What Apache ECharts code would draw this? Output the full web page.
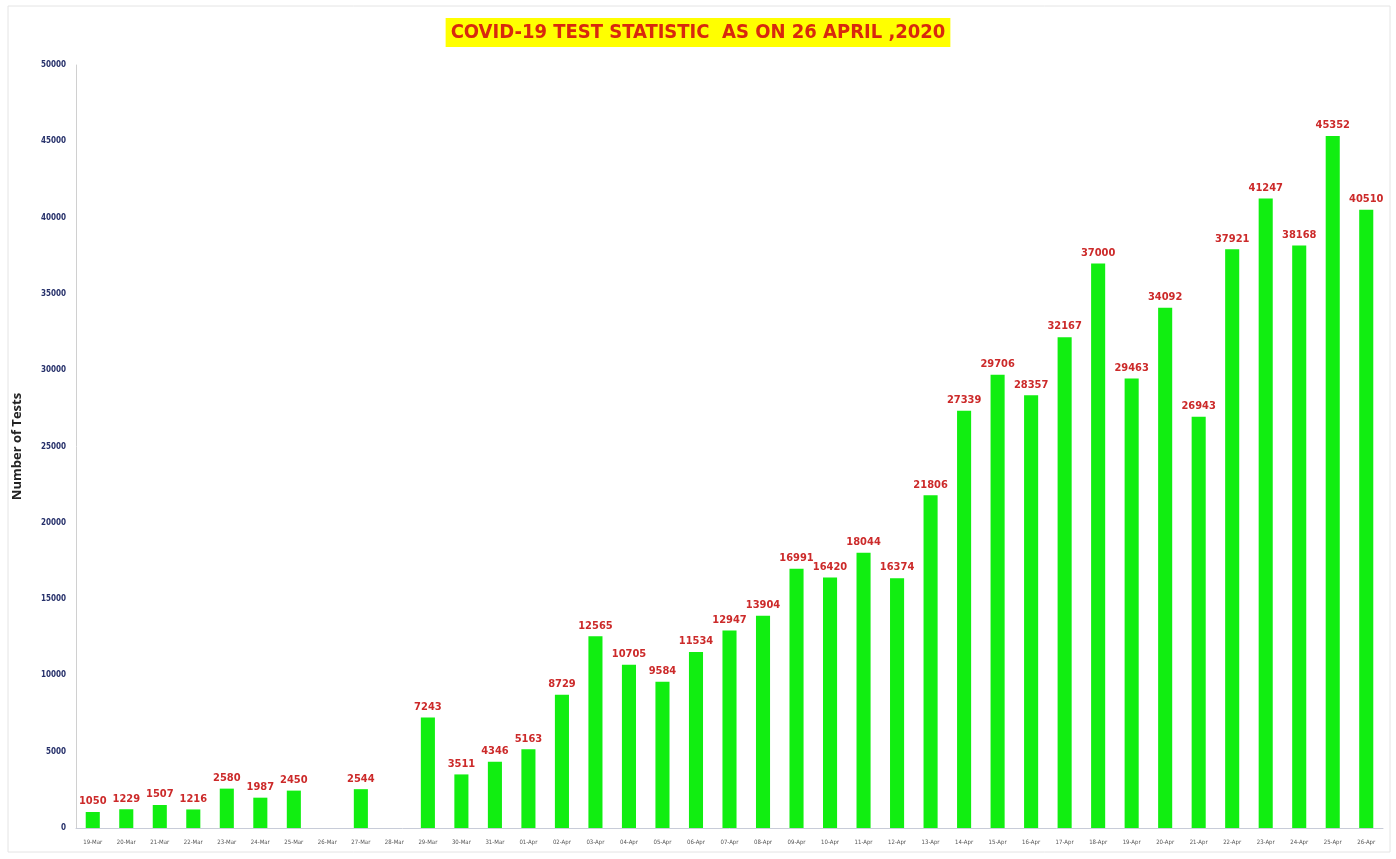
<!DOCTYPE html>
<html>
<head>
<meta charset="utf-8">
<script src="https://cdn.jsdelivr.net/npm/echarts@6/dist/echarts.min.js"></script>
<style>
  html,body{margin:0;padding:0;background:#fff;}
  #main{width:1396px;height:859px;}
</style>
</head>
<body>
<div id="main"></div>
<script>
var dates = ['19-Mar','20-Mar','21-Mar','22-Mar','23-Mar','24-Mar','25-Mar','26-Mar','27-Mar','28-Mar','29-Mar','30-Mar','31-Mar',
  '01-Apr','02-Apr','03-Apr','04-Apr','05-Apr','06-Apr','07-Apr','08-Apr','09-Apr','10-Apr','11-Apr','12-Apr','13-Apr',
  '14-Apr','15-Apr','16-Apr','17-Apr','18-Apr','19-Apr','20-Apr','21-Apr','22-Apr','23-Apr','24-Apr','25-Apr','26-Apr'];
var tests = [1050,1229,1507,1216,2580,1987,2450,null,2544,null,7243,3511,4346,
  5163,8729,12565,10705,9584,11534,12947,13904,16991,16420,18044,16374,21806,
  27339,29706,28357,32167,37000,29463,34092,26943,37921,41247,38168,45352,40510];

var narrow = '"DejaVu Sans Condensed", "Liberation Sans", sans-serif';
var chart = echarts.init(document.getElementById('main'));
var option = {
  backgroundColor: '#fff',
  title: {
    text: 'COVID-19 TEST STATISTIC  AS ON 26 APRIL ,2020',
    left: 'center',
    top: 18,
    backgroundColor: '#ffff00',
    padding: [5, 5, 4, 5],
    textStyle: {
      color: '#d8280e',
      fontFamily: narrow,
      fontWeight: 'bold',
      fontSize: 20
    }
  },
  graphic: [{
    type: 'rect',
    shape: {x: 8, y: 6, width: 1382, height: 846},
    style: {fill: 'none', stroke: '#e4e4e4', lineWidth: 1},
    silent: true
  }],
  grid: {left: 76, right: 13, top: 65, bottom: 31},
  xAxis: {
    type: 'category',
    data: dates,
    axisLine: {lineStyle: {color: '#c8ccd8'}},
    axisTick: {show: false},
    axisLabel: {
      interval: 0,
      color: '#555',
      fontSize: 6,
      fontFamily: narrow,
      margin: 11
    }
  },
  yAxis: {
    type: 'value',
    min: 0,
    max: 50000,
    interval: 5000,
    name: 'Number of Tests',
    nameLocation: 'middle',
    nameGap: 52,
    nameTextStyle: {color: '#222', fontSize: 13, fontWeight: 'bold', fontFamily: '"Open Sans", sans-serif'},
    axisLine: {show: true, lineStyle: {color: '#d0d0d0'}},
    axisTick: {show: false},
    splitLine: {show: false},
    axisLabel: {
      color: '#26306a',
      fontSize: 8,
      fontWeight: 'bold',
      fontFamily: narrow,
      margin: 10,
      formatter: function (v) { return String(v); }
    }
  },
  series: [{
    name: 'Tests',
    type: 'bar',
    data: tests,
    barWidth: '42%',
    itemStyle: {color: '#11ee11'},
    label: {
      show: true,
      position: 'top',
      distance: 5,
      color: '#cc2a2a',
      fontSize: 11,
      fontWeight: 'bold',
      fontFamily: narrow
    }
  }]
};
chart.setOption(option);
</script>
</body>
</html>
